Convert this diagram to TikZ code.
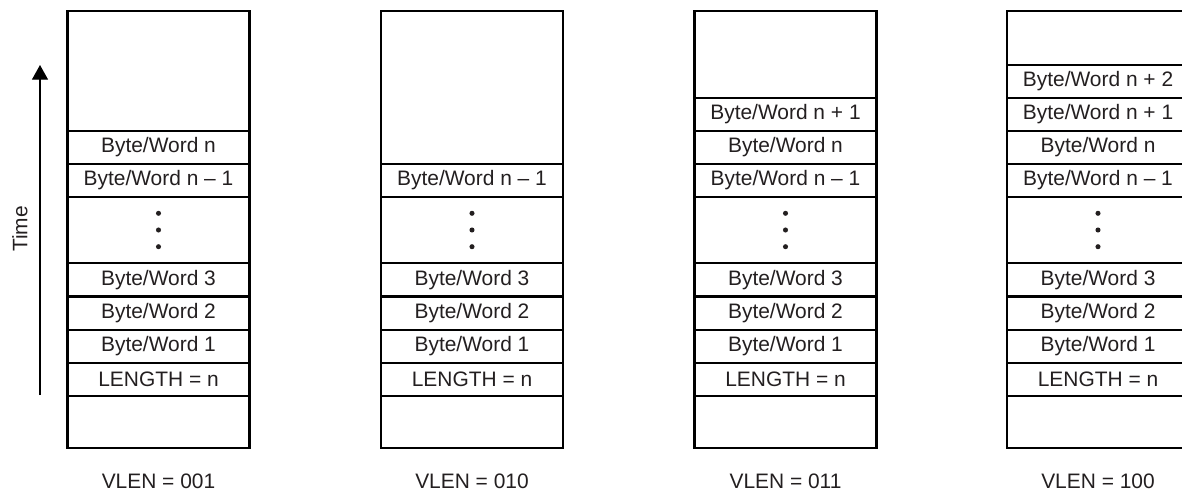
\documentclass[tikz,border=0pt]{standalone}
\usepackage{fontspec}
\setmainfont{Liberation Sans}
\usetikzlibrary{arrows.meta}
\definecolor{txt}{HTML}{231F20}
\newcommand\mycell[5]{\node[cell, minimum height={(#4-#3)*0.75pt}] (#1) at (#2,{(#3+#4)/2}) {#5};}
\newcommand\mydots[1]{\fill[txt] (#1.center) ++(0,-16.7) circle (1.9pt) (#1.center) circle (1.9pt) (#1.center) ++(0,16.7) circle (1.9pt);}
\begin{document}
\begin{tikzpicture}[x=0.75pt,y=-0.75pt,
  cell/.style={draw=black, line width=1.8pt, minimum width=136.5pt, inner sep=0pt, text=txt, font=\fontsize{15.7}{18}\selectfont},
  lbl/.style={text=txt, font=\fontsize{15.7}{18}\selectfont, inner sep=0pt}]
\useasboundingbox (0,0) rectangle (1182,492);
\clip (0,0) rectangle (1182,492);
% column 1
\mycell{a0}{158.5}{11}{131}{}
\mycell{a1}{158.5}{131}{164}{Byte/Word n}
\mycell{a2}{158.5}{164}{197}{Byte/Word n -- 1}
\mycell{a3}{158.5}{197}{263}{}
\mycell{a4}{158.5}{263}{296.5}{Byte/Word 3}
\mycell{a5}{158.5}{296.5}{330}{Byte/Word 2}
\mycell{a6}{158.5}{330}{363}{Byte/Word 1}
\mycell{a7}{158.5}{363}{396}{LENGTH = n}
\mycell{a8}{158.5}{396}{448}{}
\mydots{a3}
\node[lbl] (va) at (158.5,481) {VLEN = 001};
% column 2
\mycell{b0}{472}{11}{164}{}
\mycell{b2}{472}{164}{197}{Byte/Word n -- 1}
\mycell{b3}{472}{197}{263}{}
\mycell{b4}{472}{263}{296.5}{Byte/Word 3}
\mycell{b5}{472}{296.5}{330}{Byte/Word 2}
\mycell{b6}{472}{330}{363}{Byte/Word 1}
\mycell{b7}{472}{363}{396}{LENGTH = n}
\mycell{b8}{472}{396}{448}{}
\mydots{b3}
\node[lbl] (vb) at (472,481) {VLEN = 010};
% column 3
\mycell{c0}{785.5}{11}{98}{}
\mycell{c9}{785.5}{98}{131}{Byte/Word n + 1}
\mycell{c1}{785.5}{131}{164}{Byte/Word n}
\mycell{c2}{785.5}{164}{197}{Byte/Word n -- 1}
\mycell{c3}{785.5}{197}{263}{}
\mycell{c4}{785.5}{263}{296.5}{Byte/Word 3}
\mycell{c5}{785.5}{296.5}{330}{Byte/Word 2}
\mycell{c6}{785.5}{330}{363}{Byte/Word 1}
\mycell{c7}{785.5}{363}{396}{LENGTH = n}
\mycell{c8}{785.5}{396}{448}{}
\mydots{c3}
\node[lbl] (vc) at (785.5,481) {VLEN = 011};
% column 4
\mycell{d0}{1098}{11}{65}{}
\mycell{d10}{1098}{65}{98}{Byte/Word n + 2}
\mycell{d9}{1098}{98}{131}{Byte/Word n + 1}
\mycell{d1}{1098}{131}{164}{Byte/Word n}
\mycell{d2}{1098}{164}{197}{Byte/Word n -- 1}
\mycell{d3}{1098}{197}{263}{}
\mycell{d4}{1098}{263}{296.5}{Byte/Word 3}
\mycell{d5}{1098}{296.5}{330}{Byte/Word 2}
\mycell{d6}{1098}{330}{363}{Byte/Word 1}
\mycell{d7}{1098}{363}{396}{LENGTH = n}
\mycell{d8}{1098}{396}{448}{}
\mydots{d3}
\node[lbl] (vd) at (1098,481) {VLEN = 100};
% time arrow
\coordinate (tb) at (40,395);
\coordinate (tt) at (40,65);
\draw[line width=0.9pt, -{Triangle[length=11pt,width=12pt]}] (tb) -- (tt);
\node[lbl, rotate=90] (time) at (20,229) {Time};
\end{tikzpicture}
\end{document}
